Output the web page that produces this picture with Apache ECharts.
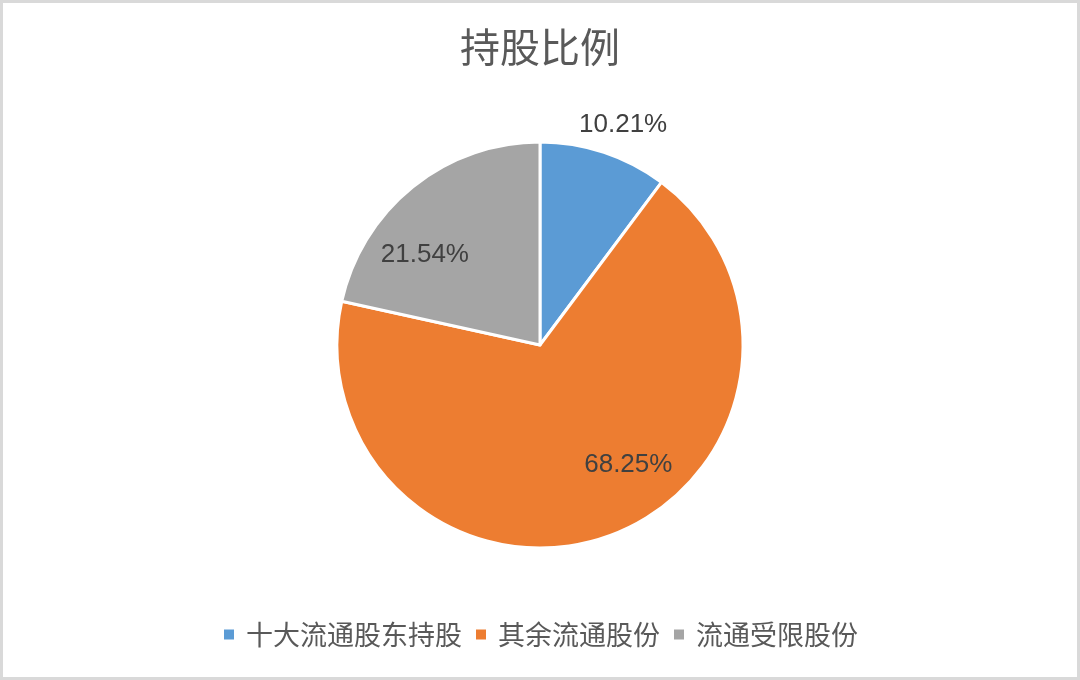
<!DOCTYPE html>
<html>
<head>
<meta charset="utf-8">
<title>持股比例</title>
<script src="https://cdn.jsdelivr.net/npm/echarts@6/dist/echarts.min.js"></script>
<style>
  html, body { margin: 0; padding: 0; background: #fff; }
  #main { width: 1080px; height: 680px; }
</style>
</head>
<body>
<div id="main"></div>
<script>
// 数据
const categories = ['十大流通股东持股', '其余流通股份', '流通受限股份'];
const shares = [10.21, 68.25, 21.54];
const colors = ['#5b9bd5', '#ed7d31', '#a5a5a5'];

// 标签位置：离圆心的距离（半径倍数）和相对扇形中线的偏转角（度）
const labelDist = [1.16, 0.735, 0.72];
const labelTurn = [2.3, -15.9, -13.2];

const CX = 540, CY = 345, R = 203;

const chart = echarts.init(document.getElementById('main'));

// 每块扇形的中间角度（从12点方向顺时针）
const total = shares.reduce((a, b) => a + b, 0);
const midAngles = [];
let acc = 0;
shares.forEach(v => {
  midAngles.push((acc + v / 2) / total * 360);
  acc += v;
});

const option = {
  backgroundColor: '#fff',
  color: colors,
  title: {
    text: '持股比例',
    left: 'center',
    top: 22,
    textStyle: {
      fontFamily: 'Noto Sans CJK SC',
      fontSize: 40,
      fontWeight: 'normal',
      color: '#595959'
    }
  },
  legend: {
    data: categories,
    bottom: 27,
    left: 'center',
    icon: 'rect',
    itemWidth: 12,
    itemHeight: 12,
    itemGap: 12,
    textStyle: {
      fontFamily: 'Noto Sans CJK SC',
      fontSize: 27,
      color: '#595959',
      padding: [0, 0, 0, 6]
    }
  },
  graphic: [{
    type: 'rect',
    shape: { x: 1.5, y: 1.5, width: 1077, height: 677 },
    style: { fill: null, stroke: '#d9d9d9', lineWidth: 3 },
    silent: true
  }],
  series: [{
    type: 'pie',
    center: [CX, CY],
    radius: R,
    startAngle: 90,
    clockwise: true,
    animation: false,
    itemStyle: { borderColor: '#fff', borderWidth: 3 },
    label: {
      show: true,
      position: 'inside',
      formatter: p => p.value.toFixed(2) + '%',
      fontFamily: 'Liberation Sans',
      fontSize: 26,
      color: '#404040'
    },
    labelLine: { show: false },
    labelLayout: function (params) {
      const i = params.dataIndex;
      const d = labelDist[i] * R;
      const a = (midAngles[i] + labelTurn[i]) * Math.PI / 180;
      return {
        x: CX + d * Math.sin(a),
        y: CY - d * Math.cos(a),
        align: 'center',
        verticalAlign: 'middle'
      };
    },
    emphasis: { disabled: true },
    data: categories.map((name, i) => ({ name: name, value: shares[i] }))
  }]
};

chart.setOption(option);
</script>
</body>
</html>
